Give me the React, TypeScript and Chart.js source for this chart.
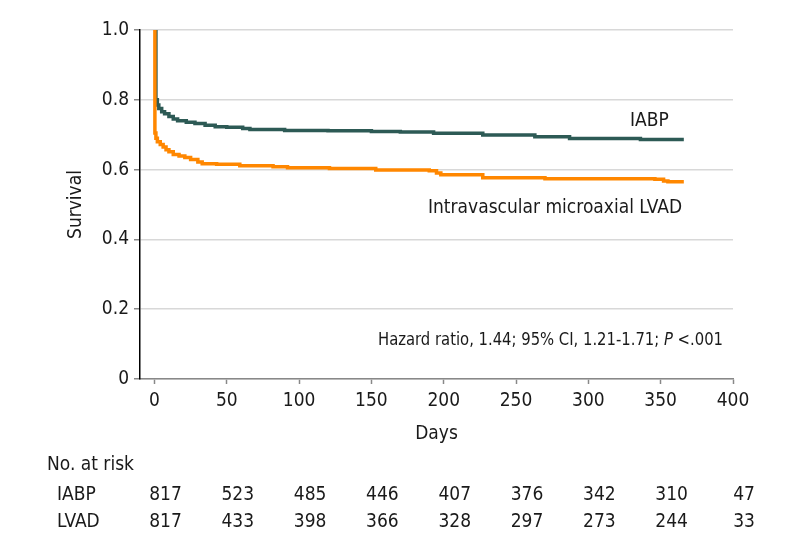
import React, { useEffect, useRef } from "react";
import { Chart, registerables } from "chart.js";
Chart.register(...registerables);

const FONT = "'Liberation Sans Narrow', 'DejaVu Sans Condensed', 'Roboto Condensed', Roboto, sans-serif";

const iabpDays = [0, 1, 2, 3, 5, 7, 10, 13, 16, 22, 28, 35, 42, 50, 61, 66, 90, 120, 150, 170, 193, 227, 263, 287, 336, 366];
const iabpSurv = [1.0, 0.8, 0.785, 0.775, 0.766, 0.76, 0.752, 0.745, 0.74, 0.736, 0.732, 0.727, 0.723, 0.721, 0.718, 0.715, 0.712, 0.711, 0.709, 0.708, 0.704, 0.699, 0.694, 0.689, 0.686, 0.686];

const lvadDays = [0, 0.3, 1, 2, 4, 6, 8, 10, 13, 17, 21, 25, 30, 33, 43, 59, 82, 92, 121, 153, 190, 195, 198, 227, 270, 346, 352, 355, 366];
const lvadSurv = [1.0, 0.705, 0.69, 0.68, 0.672, 0.665, 0.657, 0.651, 0.643, 0.639, 0.635, 0.629, 0.622, 0.617, 0.615, 0.611, 0.608, 0.605, 0.603, 0.599, 0.597, 0.59, 0.585, 0.577, 0.574, 0.572, 0.567, 0.565, 0.565];

const xTicks = [0, 50, 100, 150, 200, 250, 300, 350, 400];
const yTicks = [0, 0.2, 0.4, 0.6, 0.8, 1.0];

const riskTimes = [0, 50, 100, 150, 200, 250, 300, 350, 400];
const riskIABP = [817, 523, 485, 446, 407, 376, 342, 310, 47];
const riskLVAD = [817, 433, 398, 366, 328, 297, 273, 244, 33];

const IABP_COLOR = "#2d5a55";
const LVAD_COLOR = "#ff8700";
const TEXT = "#1a1a1a";
const FS = 19;

const textPlugin = {
  id: "kmText",
  afterDraw(chart: any) {
    const ctx = chart.ctx;
    const xs = chart.scales.x;
    const area = chart.chartArea;
    ctx.save();
    ctx.fillStyle = TEXT;
    ctx.textBaseline = "middle";
    const f = (size: number, italic = false) => `${italic ? "italic " : ""}${size}px ${FONT}`;

    // curve labels
    ctx.font = f(FS);
    ctx.textAlign = "left";
    ctx.fillText("IABP", 630, 121);
    ctx.fillText("Intravascular microaxial LVAD", 428, 208);

    // hazard ratio text, fitted between 378 and 723
    const HS = 18;
    const parts = [
      { t: "Hazard ratio, 1.44; 95% CI, 1.21-1.71; ", it: false },
      { t: "P", it: true },
      { t: " <.001", it: false },
    ];
    const widths = parts.map((p) => {
      ctx.font = f(HS, p.it);
      return ctx.measureText(p.t).width;
    });
    const total = widths.reduce((a, b) => a + b, 0);
    const target = 723 - 378;
    const s = Math.min(1, target / total);
    let x = 723 - total * s;
    parts.forEach((p, i) => {
      ctx.font = f(HS, p.it);
      ctx.fillText(p.t, x, 340, widths[i] * s);
      x += widths[i] * s;
    });

    // axis titles
    ctx.textAlign = "center";
    ctx.font = f(FS);
    ctx.fillText("Days", (area.left + area.right) / 2, 434);
    ctx.save();
    ctx.translate(76, (area.top + area.bottom) / 2);
    ctx.rotate(-Math.PI / 2);
    ctx.fillText("Survival", 0, 0);
    ctx.restore();

    // risk table
    ctx.textAlign = "left";
    ctx.fillText("No. at risk", 47, 465);
    ctx.fillText("IABP", 57, 495);
    ctx.fillText("LVAD", 57, 522);
    ctx.textAlign = "center";
    riskTimes.forEach((t, i) => {
      const px = xs.getPixelForValue(t) + 11;
      ctx.fillText(String(riskIABP[i]), px, 495);
      ctx.fillText(String(riskLVAD[i]), px, 522);
    });
    ctx.restore();
  },
};

export default function App() {
  const ref = useRef<HTMLCanvasElement>(null);
  useEffect(() => {
    if (!ref.current) return;
    const chart = new Chart(ref.current, {
      type: "line",
      data: {
        datasets: [
          {
            label: "Intravascular microaxial LVAD",
            data: lvadDays.map((d, i) => ({ x: d, y: lvadSurv[i] })),
            borderColor: LVAD_COLOR,
            backgroundColor: LVAD_COLOR,
            borderWidth: 3.5,
            pointRadius: 0,
            stepped: "before",
            fill: false,
          },
          {
            label: "IABP",
            data: iabpDays.map((d, i) => ({ x: d, y: iabpSurv[i] })),
            borderColor: IABP_COLOR,
            backgroundColor: IABP_COLOR,
            borderWidth: 3.5,
            pointRadius: 0,
            stepped: "before",
            fill: false,
          },
        ],
      },
      options: {
        animation: false,
        responsive: false,
        devicePixelRatio: 1,
        layout: { padding: { left: 0, right: 65, top: 30, bottom: 0 } },
        plugins: { legend: { display: false }, tooltip: { enabled: false } },
        scales: {
          x: {
            type: "linear",
            min: -10,
            max: 400,
            afterBuildTicks: (s: any) => {
              s.ticks = xTicks.map((v) => ({ value: v }));
            },
            afterFit: (s: any) => {
              s.height = 547 - 379;
            },
            grid: { drawOnChartArea: false, drawTicks: true, tickLength: 5, tickColor: "#888", tickWidth: 1.5 },
            border: { color: "#888", width: 1.5 },
            ticks: { font: { family: FONT, size: FS }, color: TEXT, padding: 6, maxRotation: 0 },
          },
          y: {
            type: "linear",
            min: 0,
            max: 1,
            afterBuildTicks: (s: any) => {
              s.ticks = yTicks.map((v) => ({ value: v }));
            },
            afterFit: (s: any) => {
              s.width = 140;
            },
            grid: { color: "#d8d8d8", lineWidth: 1.5, drawTicks: true, tickLength: 6, tickColor: "#888", tickWidth: 1.5 },
            border: { color: "#000", width: 1.5 },
            ticks: {
              font: { family: FONT, size: FS },
              color: TEXT,
              padding: 5,
              callback: (v: any) => (Number(v) === 0 ? "0" : Number(v).toFixed(1)),
            },
          },
        },
      },
      plugins: [textPlugin],
    });
    return () => chart.destroy();
  }, []);
  return (
    <div style={{ position: "absolute", left: 0, top: 0, width: 798, height: 547, background: "#fff" }}>
      <canvas ref={ref} width={798} height={547} style={{ display: "block" }} />
    </div>
  );
}
